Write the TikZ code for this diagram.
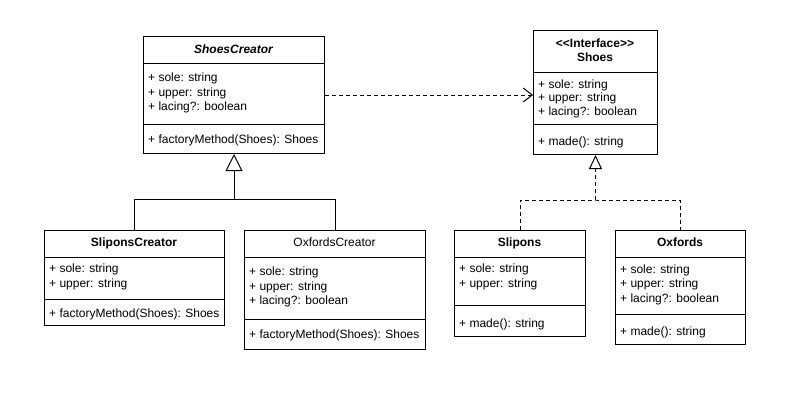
\documentclass[tikz,border=0pt]{standalone}
\usepackage{fontspec}
\setmainfont{Liberation Sans}
\usetikzlibrary{arrows.meta}
\begin{document}
\begin{tikzpicture}[x=1pt,y=-1pt,
  box/.style={draw,line width=1pt,inner sep=0pt},
  divline/.style={line width=1pt},
  attr/.style={anchor=west,inner sep=0pt,yshift=-1.2pt,font=\fontsize{12}{14}\selectfont,text height=8.6pt,text depth=2.6pt},
  ttl/.style={anchor=center,inner sep=0pt,yshift=-0.8pt,font=\fontsize{12}{14}\selectfont\bfseries,text height=8.6pt,text depth=2.6pt},
  conn/.style={line width=1pt},
  dashconn/.style={line width=1pt,dash pattern=on 4pt off 3pt},
  inhtip/.style={-{Triangle[open,length=17pt,width=17pt,line width=1pt]}},
  realtip/.style={-{Triangle[open,length=14pt,width=13pt,line width=1pt]}},
  deptip/.style={-{Straight Barb[length=9pt,width=14pt,line width=1pt]}}]
\useasboundingbox (0,0) rectangle (800,400);
\fill[white] (0,0) rectangle (800,400);

% ShoesCreator
\node[box,minimum width=181pt,minimum height=117pt,anchor=north west] (sc) at (143,36) {};
\draw[divline] (143,63) -- (324,63) (143,124) -- (324,124);
\node[ttl] (sct) at (233.5,49.5) {\itshape ShoesCreator};
\node[attr] (sc1) at (148,77.5) {+ sole: string};
\node[attr] (sc2) at (148,92) {+ upper: string};
\node[attr] (sc3) at (148,106.5) {+ lacing?: boolean};
\node[attr] (sc4) at (148,139.5) {+ factoryMethod(Shoes): Shoes};

% Shoes
\node[box,minimum width=124pt,minimum height=124pt,anchor=north west] (sh) at (533,30) {};
\draw[divline] (533,72) -- (657,72) (533,124) -- (657,124);
\node[ttl] (sht1) at (595,44) {{<}{<}Interface{>}{>}};
\node[ttl] (sht2) at (595,58) {Shoes};
\node[attr] (sh1) at (538,84.5) {+ sole: string};
\node[attr] (sh2) at (538,97.5) {+ upper: string};
\node[attr] (sh3) at (538,111) {+ lacing?: boolean};
\node[attr] (sh4) at (538,141.5) {+ made(): string};

% SliponsCreator
\node[box,minimum width=180pt,minimum height=95pt,anchor=north west] (slc) at (44,230) {};
\draw[divline] (44,257) -- (224,257) (44,299) -- (224,299);
\node[ttl] (slct) at (134,243) {SliponsCreator};
\node[attr] (slc1) at (49,268) {+ sole: string};
\node[attr] (slc2) at (49,283.5) {+ upper: string};
\node[attr] (slc3) at (49,313.5) {+ factoryMethod(Shoes): Shoes};

% OxfordsCreator
\node[box,minimum width=181pt,minimum height=119pt,anchor=north west] (oxc) at (244,230) {};
\draw[divline] (244,257) -- (425,257) (244,319) -- (425,319);
\node[ttl] (oxct) at (334.5,243) {\mdseries OxfordsCreator};
\node[attr] (oxc1) at (249,271.5) {+ sole: string};
\node[attr] (oxc2) at (249,286) {+ upper: string};
\node[attr] (oxc3) at (249,300.5) {+ lacing?: boolean};
\node[attr] (oxc4) at (249,334.5) {+ factoryMethod(Shoes): Shoes};

% Slipons
\node[box,minimum width=131pt,minimum height=106pt,anchor=north west] (sl) at (454,230) {};
\draw[divline] (454,257) -- (585,257) (454,305) -- (585,305);
\node[ttl] (slt) at (519.5,243) {Slipons};
\node[attr] (sl1) at (459,268.5) {+ sole: string};
\node[attr] (sl2) at (459,283) {+ upper: string};
\node[attr] (sl3) at (459,323.5) {+ made(): string};

% Oxfords
\node[box,minimum width=130pt,minimum height=114pt,anchor=north west] (ox) at (615,230) {};
\draw[divline] (615,257) -- (745,257) (615,314) -- (745,314);
\node[ttl] (oxt) at (680,243) {Oxfords};
\node[attr] (ox1) at (620,269) {+ sole: string};
\node[attr] (ox2) at (620,283.5) {+ upper: string};
\node[attr] (ox3) at (620,298) {+ lacing?: boolean};
\node[attr] (ox4) at (620,331.5) {+ made(): string};

% connectors
\coordinate (j1) at (sc.south |- 0,199.5);
\coordinate (j2) at (sh.south |- 0,200);
\draw[conn] (slc.north) |- (j1) -| (oxc.north);
\draw[conn,inhtip] (j1) -- (sc.south);
\draw[dashconn] (sl.north) |- (j2) -| (ox.north);
\draw[dashconn,realtip] (j2) -- (sh.south);
\draw[dashconn,deptip] (sc.east |- 0,95) -- (sh.west |- 0,95);
\end{tikzpicture}
\end{document}
